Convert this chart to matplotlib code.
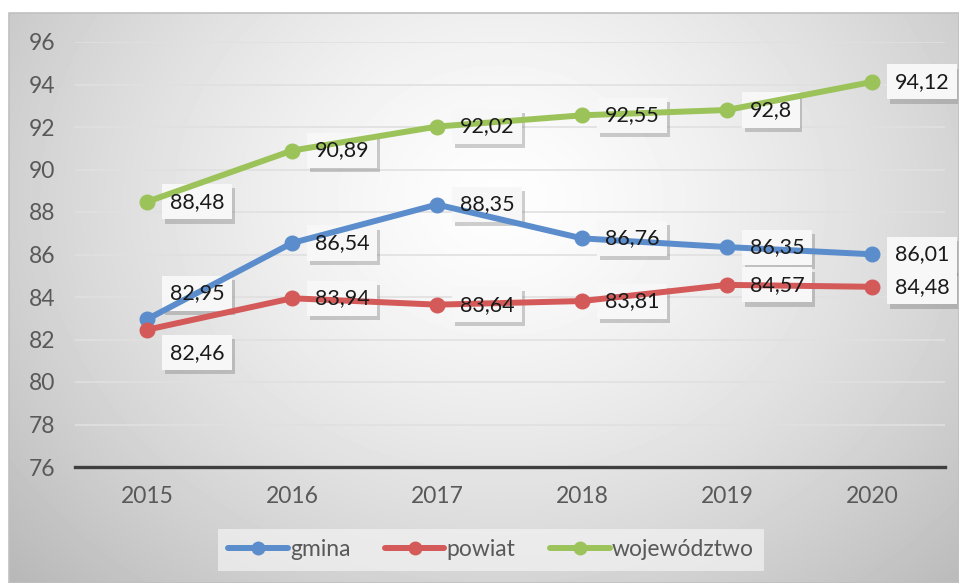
import numpy as np
import matplotlib
matplotlib.use("Agg")
import matplotlib.pyplot as plt
from matplotlib import patheffects
from matplotlib.patches import Rectangle

years = ["2015", "2016", "2017", "2018", "2019", "2020"]
gmina = [82.95, 86.54, 88.35, 86.76, 86.35, 86.01]
powiat = [82.46, 83.94, 83.64, 83.81, 84.57, 84.48]
wojewodztwo = [88.48, 90.89, 92.02, 92.55, 92.8, 94.12]
series_names = ["gmina", "powiat", "województwo"]
colors = ["#5b8dcc", "#d45959", "#9bc35a"]
yticks = [76, 78, 80, 82, 84, 86, 88, 90, 92, 94, 96]

plt.rcParams['font.family'] = ['Lato', 'DejaVu Sans']

W, H = 959, 583
fig = plt.figure(figsize=(W / 100, H / 100), dpi=100)
fig.patch.set_facecolor('white')

# background gradient chart area
bx0, by0 = 9, 13
bg = fig.add_axes([bx0 / W, 0, (W - bx0) / W, (H - by0) / H])
bw, bh = W - bx0, H - by0
xx, yy = np.meshgrid(np.arange(bw), np.arange(bh))
cx, cy = 500 - bx0, 200 - by0
d = np.sqrt(((xx - cx) / (bw * 0.52)) ** 2 + ((yy - cy) / (bh * 0.72)) ** 2)
v = 0.995 - 0.18 * d ** 1.4
v = np.clip(v, 0, 1)
bg.imshow(v, cmap='gray', vmin=0, vmax=1, aspect='auto', interpolation='bilinear')
bg.set_axis_off()
fig.add_artist(Rectangle((bx0 / W, 0), (W - bx0) / W, (H - by0) / H,
                         transform=fig.transFigure, fill=False,
                         edgecolor='#c0c0c0', linewidth=1.2, zorder=1))

ax = fig.add_axes([74.5 / W, 1 - 467 / H, (944.5 - 74.5) / W, (467 - 42) / H])
ax.patch.set_alpha(0)
x = np.arange(len(years))
ax.set_xlim(-0.5, len(years) - 0.5)
ax.set_ylim(76, 96)
ax.set_yticks(yticks)
ax.set_yticklabels([str(t) for t in yticks])
ax.set_xticks(x)
ax.set_xticklabels(years)
ax.tick_params(axis='both', length=0, labelsize=16.5, labelcolor='#595959')
ax.tick_params(axis='y', pad=14)
ax.tick_params(axis='x', pad=14)
for s in ['top', 'right', 'left']:
    ax.spines[s].set_visible(False)
ax.spines['bottom'].set_color('#3f3f3f')
ax.spines['bottom'].set_linewidth(2.4)
ax.spines['bottom'].set_zorder(6)
ax.grid(axis='y', color='#e0e0e0', linewidth=1.2, zorder=0)
ax.set_axisbelow(True)

data = [gmina, powiat, wojewodztwo]
for name, vals, c in zip(series_names, data, colors):
    ax.plot(x, vals, color=c, linewidth=4.3, marker='o', markersize=10.5,
            label=name, zorder=4, solid_capstyle='round')

def fmt(v):
    s = ('%.2f' % v).rstrip('0').rstrip('.')
    return s.replace('.', ',')

shadow = [patheffects.withSimplePatchShadow(offset=(2, -3), shadow_rgbFace='#606060', alpha=0.3)]
for si, vals in enumerate(data):
    for i, v in enumerate(vals):
        dx, dy = 23, 0
        if si == 0 and i == 0:
            dy = 26
        if si == 1 and i == 0:
            dy = -23
        txt = fmt(v)
        a = ax.annotate(txt, (x[i], v), xytext=(dx, dy), textcoords='offset pixels',
                        ha='left', va='center', fontsize=15.5, color='none',
                        bbox=dict(boxstyle='square,pad=0.35', facecolor='#f7f7f7',
                                  edgecolor='none'), zorder=3, annotation_clip=False)
        a.get_bbox_patch().set_path_effects(shadow)
        ax.annotate(txt, (x[i], v), xytext=(dx, dy), textcoords='offset pixels',
                    ha='left', va='center', fontsize=15.5, color='#1a1a1a',
                    zorder=5, annotation_clip=False)

handles, labels = ax.get_legend_handles_labels()
leg = fig.legend(handles, labels, loc='center', bbox_to_anchor=(491 / W, 1 - 550 / H),
                 ncol=3, frameon=True, fontsize=16.5, handlelength=2.6,
                 handletextpad=0.1, columnspacing=1.5, borderpad=0.45,
                 fancybox=False, labelcolor='#595959')
leg.get_frame().set_facecolor('#f3f3f3')
leg.get_frame().set_alpha(0.7)
leg.get_frame().set_edgecolor('none')
for lh in leg.get_lines():
    lh.set_markersize(9)

fig.savefig('out.png', dpi=100)
